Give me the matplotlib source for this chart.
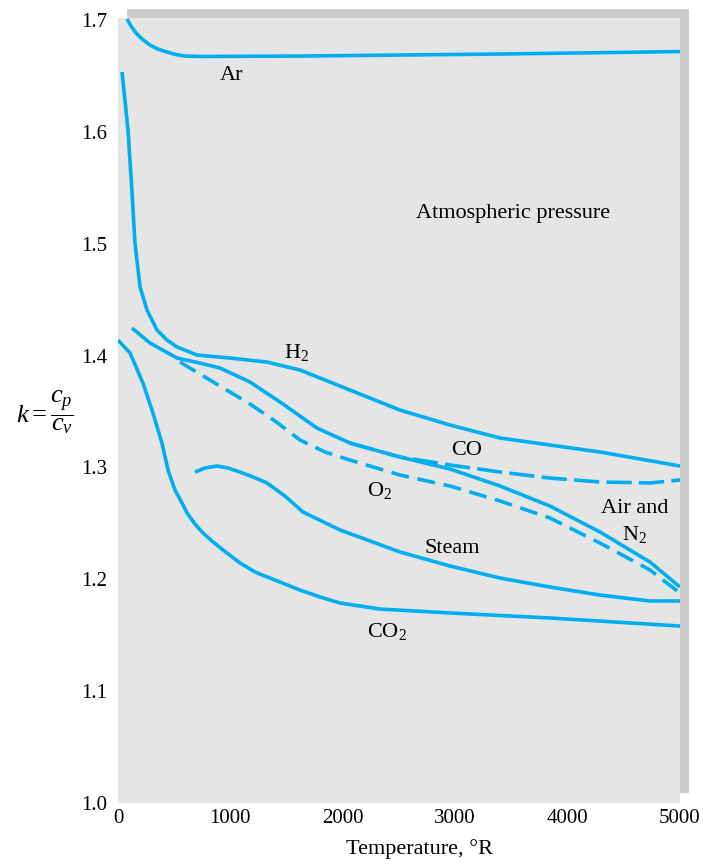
import matplotlib.pyplot as plt
from matplotlib.patches import Rectangle

plt.rcParams['font.family'] = ['Liberation Serif', 'DejaVu Serif']
plt.rcParams['mathtext.fontset'] = 'custom'
plt.rcParams['mathtext.rm'] = 'Liberation Serif'
plt.rcParams['mathtext.it'] = 'Liberation Serif:italic'

# k = cp/cv vs temperature (deg R)
ar_T = [80, 116, 160, 214, 285, 356, 436, 516, 596, 730, 1619, 3399, 5000]
ar_k = [1.7009, 1.6946, 1.6884, 1.6830, 1.6776, 1.6740, 1.6714, 1.6691, 1.6678, 1.6674,
        1.6678, 1.6696, 1.6718]

h2_T = [36, 89, 125, 151, 196, 258, 347, 436, 525, 614, 703, 996, 1326, 1619, 2064, 2509,
        2954, 3399, 4288, 5000]
h2_k = [1.6535, 1.6016, 1.5453, 1.5006, 1.4613, 1.4407, 1.4228, 1.4139, 1.4077, 1.4041,
        1.4005, 1.3978, 1.3942, 1.3871, 1.3692, 1.3513, 1.3379, 1.3263, 1.3138, 1.3013]

air_T = [125, 285, 525, 730, 907, 1174, 1468, 1770, 2064, 2509, 2954, 3399, 3843, 4288,
         4733, 5000]
air_k = [1.4246, 1.4112, 1.3978, 1.3933, 1.3889, 1.3764, 1.3567, 1.3352, 1.3218, 1.3093,
         1.2986, 1.2834, 1.2655, 1.2423, 1.2154, 1.1931]

# CO follows the air curve up to about 2500 R, then splits off
co_T = [2064, 2509, 2954, 3399, 3843, 4288, 4733, 5000]
co_k = [1.3218, 1.3093, 1.3022, 1.2959, 1.2905, 1.2870, 1.2861, 1.2888]

o2_T = [552, 819, 1174, 1397, 1619, 1842, 2064, 2509, 2954, 3399, 3843, 4288, 4733, 5000]
o2_k = [1.3942, 1.3781, 1.3567, 1.3415, 1.3245, 1.3138, 1.3066, 1.2932, 1.2834, 1.2700,
        1.2548, 1.2324, 1.2083, 1.1877]

steam_T = [685, 774, 881, 979, 1085, 1201, 1326, 1486, 1646, 1975, 2509, 2954, 3399, 3843,
           4288, 4733, 5000]
steam_k = [1.2959, 1.2995, 1.3013, 1.2995, 1.2959, 1.2915, 1.2861, 1.2744, 1.2601, 1.2441,
           1.2244, 1.2119, 1.2011, 1.1931, 1.1859, 1.1806, 1.1806]

co2_T = [0, 107, 222, 311, 391, 445, 507, 560, 614, 685, 756, 836, 934, 1085, 1219, 1352,
         1619, 1797, 1975, 2153, 2331, 2954, 3843, 5000]
co2_k = [1.4139, 1.4023, 1.3755, 1.3486, 1.3218, 1.2977, 1.2798, 1.2700, 1.2593, 1.2494,
         1.2414, 1.2342, 1.2262, 1.2146, 1.2065, 1.2011, 1.1904, 1.1842, 1.1788, 1.1761,
         1.1734, 1.1699, 1.1654, 1.1582]

blue = '#00aeef'
lw = 2.6

fig = plt.figure(figsize=(7.03, 8.64), dpi=100)
# shadow box behind the plot
fig.patches.append(Rectangle((0.1807, 0.0822), 0.7994, 0.9074, transform=fig.transFigure,
                             facecolor='#cccccc', edgecolor='none', zorder=-1))
ax = fig.add_axes([0.16785, 0.0706, 0.79943, 0.90856])
ax.set_facecolor('#e5e5e5')
for s in ax.spines.values():
    s.set_visible(False)

kw = dict(color=blue, lw=lw, solid_capstyle='butt', solid_joinstyle='round')
ax.plot(ar_T, ar_k, **kw)
ax.plot(h2_T, h2_k, **kw)
ax.plot(co_T, co_k, dashes=(7, 2), dash_capstyle='butt', **kw)
ax.plot(air_T, air_k, **kw)
ax.plot(o2_T, o2_k, dashes=(5, 2.4), dash_capstyle='butt', **kw)
ax.plot(steam_T, steam_k, **kw)
ax.plot(co2_T, co2_k, **kw)

fs = 16
ax.text(1014, 1.6508, 'Ar', fontsize=fs, ha='center', va='center')
ax.text(3514, 1.5274, 'Atmospheric pressure', fontsize=fs, ha='center', va='center')
ax.text(1593, 1.4032, 'H$_2$', fontsize=fs, ha='center', va='center')
ax.text(3105, 1.3147, 'CO', fontsize=fs, ha='center', va='center')
ax.text(2331, 1.2798, 'O$_2$', fontsize=fs, ha='center', va='center')
ax.text(4600, 1.2637, 'Air and', fontsize=fs, ha='center', va='center')
ax.text(4600, 1.2396, 'N$_2$', fontsize=fs, ha='center', va='center')
ax.text(2972, 1.2271, 'Steam', fontsize=fs, ha='center', va='center')
ax.text(2393, 1.1529, 'CO$_2$', fontsize=fs, ha='center', va='center')

ax.set_xlim(0, 5000)
ax.set_ylim(1.0, 1.7018)
ax.set_xticks([0, 1000, 2000, 3000, 4000, 5000])
ax.set_yticks([1.0, 1.1, 1.2, 1.3, 1.4, 1.5, 1.6, 1.7])
ax.set_yticklabels(['1.0', '1.1', '1.2', '1.3', '1.4', '1.5', '1.6', '1.7'])
ax.set_xticks([1000, 2000, 3000, 4000], minor=True)
ax.set_yticks([1.1, 1.2, 1.3, 1.4, 1.5, 1.6], minor=True)
ax.tick_params(which='major', length=0, labelsize=15)
ax.tick_params(axis='y', which='major', pad=8)
ax.tick_params(axis='x', which='major', pad=4)
ax.tick_params(which='minor', direction='in', length=11, width=0.9, color='black')

ax.set_xlabel('Temperature, \u00b0R', fontsize=16)
ax.xaxis.set_label_coords(0.537, -0.046)
ax.set_ylabel(r'$\mathit{k} = \dfrac{\mathit{c_p}}{\mathit{c_v}}$', fontsize=19, rotation=0,
              va='center', ha='center')
ax.yaxis.set_label_coords(-0.13, 0.498)

fig.savefig('out.png', dpi=100)
